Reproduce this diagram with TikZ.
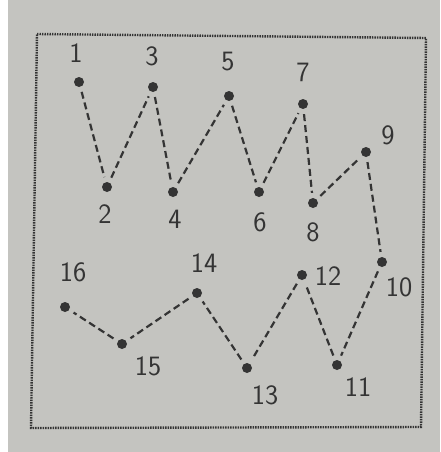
\documentclass[tikz,border=0pt]{standalone}
\usepackage{tikz}

\definecolor{paper}{RGB}{196,196,192}
\definecolor{ink}{RGB}{52,52,52}

\begin{document}
\begin{tikzpicture}[x=1pt, y=-1pt,
    every node/.style={font=\fontsize{28}{30}\selectfont\sffamily, text=ink},
    dot/.style={circle, fill=ink, inner sep=0pt, minimum size=10pt},
    lbl/.style={inner sep=0pt},
    conn/.style={ink, line width=2.2pt, dash pattern=on 7pt off 4pt,
                 shorten >=5pt, shorten <=5pt},
    frame/.style={ink, line width=2.4pt, dash pattern=on 1.4pt off 1.1pt}]
  % paper
  \useasboundingbox (0,0) rectangle (440,452);
  \fill[white] (0,0) rectangle (440,452);
  \fill[paper] (8,0) rectangle (440,452);

  % frame
  \draw[frame] (37,34) -- (426,38) -- (421,427) -- (31,428) -- cycle;

  % points and numbers
  \foreach \n/\x/\y/\lx/\ly in {1/79/82/76/53, 2/107/187/105/214, 3/153/87/152/56,
      4/173/192/175/219, 5/229/96/228/62, 6/259/192/260/222, 7/303/104/303/72,
      8/313/203/313/232, 9/366/152/388/135, 10/382/262/399/287,
      11/337/365/358/387, 12/302/275/328/276, 13/247/368/265/395,
      14/197/293/204/263, 15/122/344/148/366, 16/65/307/73/272} {
    \node[dot] (p\n) at (\x,\y) {};
    \node[lbl] (l\n) at (\lx,\ly) {\n};
  }

  % zigzag
  \foreach \a/\b in {1/2, 2/3, 3/4, 4/5, 5/6, 6/7, 7/8, 8/9, 9/10, 10/11,
      11/12, 12/13, 13/14, 14/15, 15/16} {
    \draw[conn] (p\a) -- (p\b);
  }
\end{tikzpicture}
\end{document}
